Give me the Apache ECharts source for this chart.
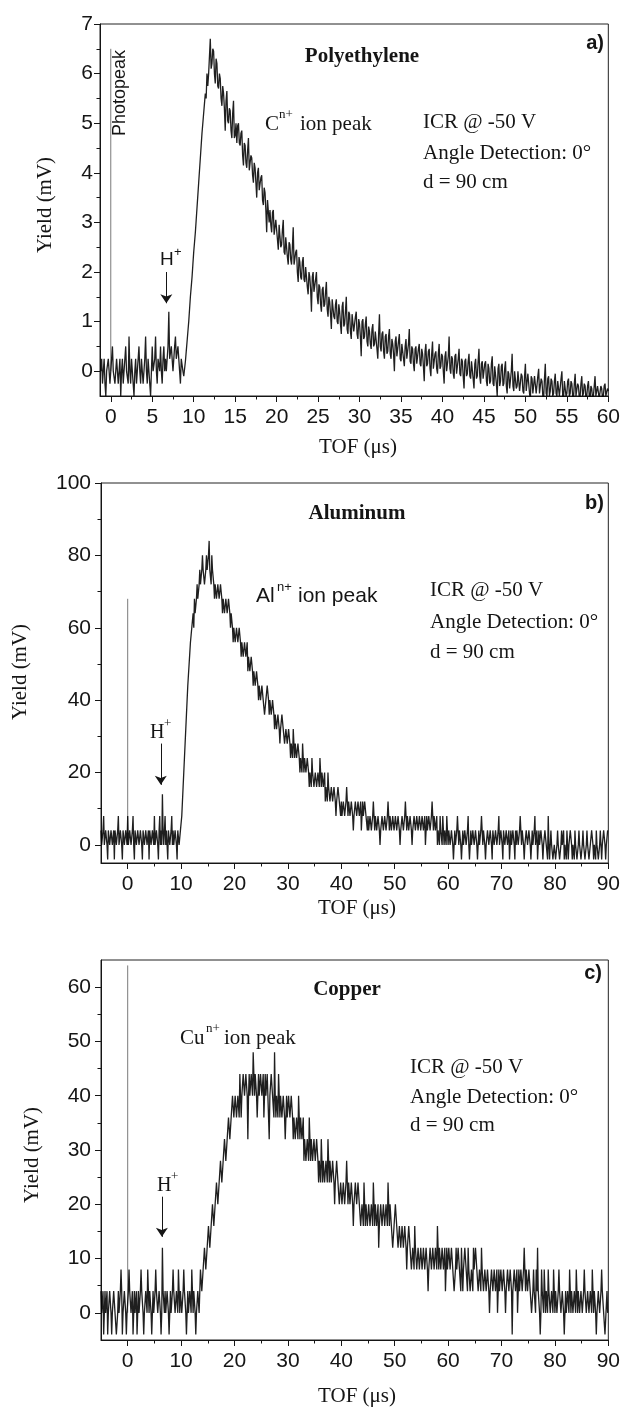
<!DOCTYPE html>
<html>
<head>
<meta charset="utf-8">
<script src="https://cdn.jsdelivr.net/npm/echarts@6/dist/echarts.min.js"></script>
<style>html,body{margin:0;padding:0;background:#fff}#c{width:623px;height:1412px}</style>
</head>
<body>
<div id="c"></div>
<script>
// ---------------- DATA ----------------
// Panel a) Polyethylene : sampled every 0.1 us from -1.2 us
const tStartA = -1.2, tStepA = 0.1;
const yieldA = [
0,0.25,-0.25,0,0.25,-0.25,-0.5,0,0,0.25,0.25,-0.25,-0.25,0.25,0.5,0,0,-0.25,-0.25,0.25,
0.25,-0.25,0,0.25,-0.5,0,0.25,-0.25,-0.25,0.25,0.5,0,0,-0.25,0.7,0,-0.25,0.25,0.25,-0.25,
-0.5,0,0.25,-0.25,0,0.25,0.5,0,-0.25,0.25,0.25,-0.25,0,0.25,0.7,0,-0.25,0.25,0.25,-0.25,
-0.5,0,0.5,0,0,0.25,0.7,0,-0.25,0.25,0.25,0,0.5,0,-0.25,0.25,0.5,0,0.25,0,
0,0.5,1.2,0.25,0.25,0.5,0.5,0,0,0.5,0.7,0.25,0.25,0.5,0.5,0,-0.25,0.25,0.25,0,
-0.1,0.05,
0.2,0.4,0.6,0.8,1.0,1.25,1.5,1.7,1.9,2.15,2.4,2.6,2.8,3.05,3.3,3.55,3.8,4.05,4.3,4.55,4.8,5.0,5.2,5.4,5.6,5.5,
6.0,5.75,6.0,6.35,6.7,6.1,6.2,6.5,6.45,6.0,5.8,6.3,6.2,5.75,5.7,6.0,
5.9,5.5,5.35,5.75,5.6,5.3,4.85,5.45,5.65,5.05,5.0,5.3,5.25,4.85,4.7,5.2,5.45,4.7,4.75,5.0,
4.6,4.95,5.0,4.6,4.55,4.8,4.85,4.35,4.15,4.6,4.55,4.2,4.1,4.45,4.7,4.05,4.05,4.35,4.3,3.95,
3.8,4.2,4.1,3.8,3.5,4.0,4.1,3.65,3.65,3.9,3.95,3.45,3.35,3.7,3.6,3.25,2.8,3.45,3.45,3.0,
3.25,2.95,2.8,3.2,3.25,2.75,2.75,3.05,3.05,2.65,2.45,2.95,2.95,2.5,2.55,2.85,3.05,2.4,2.35,2.7,
2.7,2.3,2.15,2.6,2.55,2.25,2.15,2.5,2.9,2.15,2.15,2.4,2.45,2.0,1.8,2.3,2.2,1.9,1.85,2.2,
2.3,1.85,1.8,2.1,2.1,1.7,1.55,2.0,1.9,1.65,1.2,1.9,2.0,1.6,1.6,1.85,2.0,1.5,1.35,1.75,
1.7,1.35,1.2,1.65,1.7,1.3,1.35,1.6,1.8,1.25,1.1,1.5,1.4,1.15,0.85,1.45,1.45,1.1,1.05,1.35,
1.45,1.0,0.95,1.35,1.2,0.95,0.75,1.3,1.4,0.9,0.95,1.2,1.5,0.85,0.75,1.2,1.15,0.8,0.65,1.15,
1.15,0.8,0.8,1.1,1.2,0.75,0.65,1.05,0.95,0.7,0.3,1.0,1.05,0.65,0.7,0.95,1.1,0.6,0.5,0.9,
0.8,0.55,0.45,0.85,0.95,0.5,0.55,0.8,0.8,0.45,0.25,0.75,1.15,0.5,0.4,0.75,0.8,0.4,0.25,0.7,
0.75,0.35,0.4,0.7,0.85,0.35,0.25,0.65,0.55,0.35,0.0,0.6,0.7,0.3,0.3,0.6,0.75,0.25,0.2,0.55,
0.55,0.25,0.1,0.5,0.65,0.25,0.25,0.55,0.85,0.2,0.15,0.5,0.45,0.15,0.0,0.45,0.5,0.15,0.15,0.45,
0.55,0.15,0.1,0.45,0.35,0.1,-0.2,0.4,0.55,0.1,0.15,0.4,0.45,0.05,-0.1,0.35,0.6,0.05,0.05,0.35,
0.4,0.05,-0.05,0.35,0.55,0.05,0.1,0.35,0.3,0.0,-0.25,0.3,0.4,0.0,0.0,0.3,0.7,0.05,-0.05,0.3,
0.25,-0.05,-0.15,0.3,0.35,-0.05,-0.05,0.25,0.45,-0.05,-0.1,0.25,0.2,-0.1,-0.35,0.2,0.25,-0.1,-0.05,0.2,
0.35,-0.1,-0.15,0.2,0.2,-0.15,-0.35,0.15,0.25,-0.15,-0.1,0.2,0.45,-0.1,-0.25,0.15,0.2,-0.15,-0.15,0.15,
0.2,-0.2,-0.3,0.15,0.05,-0.25,-0.2,0.15,0.3,-0.25,-0.3,0.1,0.1,-0.25,-0.5,0.05,0.15,-0.3,-0.2,0.1,
0.15,-0.3,-0.25,0.05,0.2,-0.3,-0.45,0.0,-0.05,-0.35,-0.35,0.0,0.35,-0.3,-0.4,0.0,0,-0.35,-0.3,0.0,
0,-0.4,-0.4,-0.05,-0.1,-0.4,-0.45,-0.1,0.15,-0.4,-0.4,-0.05,-0.05,-0.45,-0.55,-0.1,-0.15,-0.45,-0.45,-0.1,
-0.1,-0.45,-0.45,-0.1,0.05,-0.45,-0.45,-0.15,-0.2,-0.5,-0.55,-0.15,0.15,-0.45,-0.5,-0.15,-0.1,-0.5,-0.4,-0.15,
-0.2,-0.5,-0.45,-0.2,-0.05,-0.45,-0.5,-0.2,-0.2,-0.5,-0.5,-0.15,0,-0.5,-0.55,-0.2,-0.2,-0.5,-0.45,-0.2,
-0.15,-0.5,-0.45,-0.2,-0.25,-0.5,-0.55,-0.25,-0.05,-0.5,-0.5,-0.25,-0.3,-0.55,-0.5,-0.25,-0.1,-0.5,-0.45,-0.25,
-0.3,-0.55,-0.5,-0.3,-0.2,-0.5,-0.55,-0.3,-0.35,-0.55,-0.5,-0.3,-0.1,-0.5,-0.5,-0.3,-0.3,-0.55,-0.55,-0.3,
-0.35,-0.55,-0.5,-0.3,-0.25,-0.5,-0.5,-0.35,-0.4
];

// Panel b) Aluminum : sampled every 0.125 us from -5 us
const tStartB = -5, tStepB = 0.125;
const yieldB = [
4,0,0,4,8,0,0,4,4,0,-4,4,4,0,0,4,4,0,0,4,-4,4,4,0,0,4,8,0,0,4,4,0,-4,4,4,0,0,4,4,0,
8,0,0,4,4,0,0,4,8,0,-4,4,4,0,0,4,4,0,0,4,4,0,-4,4,4,0,0,4,4,0,0,4,-4,4,4,0,0,4,4,0,
8,0,0,4,4,0,-4,4,8,0,4,0,14,4,0,4,8,0,4,0,-4,4,4,0,0,4,8,0,4,0,0,4,4,0,-4,4,4,0,0,4,
4,8,12,16,20,24,28,32,36,40,44,47,50,53,56,58,60,62,64,60,68,64,64,68,72,68,68,72,76,72,72,76,80,76,76,72,72,76,80,76,
76,80,84,76,76,72,80,76,76,72,68,72,72,68,68,72,72,68,68,72,72,68,64,68,68,64,64,68,68,64,64,68,68,64,60,64,64,60,56,60,
60,56,56,60,60,56,56,60,60,56,52,56,56,52,52,56,56,52,52,56,48,52,52,48,48,52,52,48,44,48,48,44,44,48,48,44,40,44,44,40,
40,44,44,40,40,36,36,40,40,44,44,40,36,40,40,36,36,40,40,36,32,36,36,32,32,36,36,32,28,32,32,36,36,32,32,28,28,32,32,28,
28,32,32,28,24,28,28,24,32,28,24,28,28,24,24,28,28,24,20,24,24,20,28,24,20,24,24,20,20,24,24,20,16,20,20,16,24,20,20,16,
16,20,20,16,16,20,20,16,24,20,16,20,20,16,16,20,12,16,16,12,20,16,16,12,12,16,16,12,12,16,16,12,8,12,12,16,16,12,12,8,
12,8,8,12,12,8,8,12,16,12,8,12,12,8,8,12,12,8,4,8,8,12,12,8,8,12,12,8,8,12,4,8,12,8,8,12,12,8,8,4,
8,4,4,8,8,4,4,8,12,8,4,8,8,4,4,8,8,4,0,4,4,8,8,4,4,8,8,4,4,8,12,8,4,8,8,4,4,8,8,4,
4,8,8,4,4,8,8,4,0,4,4,8,8,4,4,8,12,8,4,8,8,4,4,8,8,4,0,4,4,8,8,4,4,8,8,4,4,8,8,4,
4,8,8,4,4,8,0,4,8,4,4,8,8,4,4,8,12,8,4,8,8,4,4,8,0,4,4,0,8,4,4,0,8,4,0,4,4,0,8,4,
0,4,4,0,0,4,4,0,-4,0,4,0,0,4,8,4,0,4,4,0,-4,0,4,0,0,4,4,0,0,4,8,0,-4,0,4,0,0,4,4,0,
0,4,4,0,-4,0,4,0,0,4,8,4,0,4,4,0,-4,0,0,4,4,0,0,4,4,0,-4,4,4,0,0,4,4,0,0,4,8,0,0,4,
4,0,-4,4,4,0,0,4,4,0,0,4,-4,0,4,0,0,4,4,0,-4,4,0,4,4,0,0,4,8,4,0,4,4,0,-4,0,0,4,4,0,
0,4,4,0,-4,0,4,0,0,4,8,0,0,4,-4,0,4,0,0,4,4,0,-4,0,0,4,4,0,0,-4,8,0,-4,0,4,0,0,-4,-4,0,
0,-4,-4,0,4,0,0,-4,-4,0,4,0,0,4,-4,0,0,-4,4,0,-4,0,0,4,4,0,-4,0,0,-4,4,0,0,-4,-4,0,4,0,0,-4,
-4,0,4,0,0,-4,-4,0,4,0,0,-4,-4,0,0,4,4,0,-4,0,0,-4,4,0,0,-4,-4,0,4,0,-4,0,0,4,4,0,-4,0,0,4,
4
];

// Panel c) Copper : sampled every 0.125 us from -5 us
const tStartC = -5, tStepC = 0.125;
const yieldC = [
4,0,0,4,-4,0,4,0,0,4,-4,0,0,4,4,0,-4,0,0,4,4,0,0,-4,-4,0,4,0,0,4,8,4,-4,0,0,4,4,0,-4,0,
0,4,8,4,4,0,0,4,-4,0,4,0,0,4,-4,0,4,0,0,4,8,4,4,0,-4,0,0,4,4,0,8,4,0,4,4,0,-4,0,4,0,
0,4,8,4,4,0,0,4,4,0,-4,0,12,4,4,0,4,0,0,4,4,0,-4,0,4,0,0,4,8,4,4,0,0,4,4,0,8,4,0,4,
4,0,0,4,8,4,4,0,-4,0,4,0,0,4,4,0,8,4,0,4,4,0,-4,0,0,4,4,0,4,8,8,4,4,8,8,12,12,8,8,12,
12,16,16,12,12,16,16,20,20,16,16,20,20,24,24,20,20,24,24,28,28,24,24,28,28,32,32,28,28,32,32,36,36,32,32,36,36,40,40,36,
36,40,40,36,36,40,40,36,44,40,36,40,40,44,44,40,40,44,44,40,32,40,44,40,40,44,44,40,48,44,40,44,44,40,36,40,44,40,40,44,
44,40,40,44,36,40,44,40,40,44,44,36,32,40,40,44,44,40,40,36,48,40,36,40,40,36,44,40,36,40,40,36,36,40,40,36,32,36,40,36,
36,40,40,36,36,40,40,36,32,36,36,32,32,36,36,32,40,36,32,36,36,32,32,36,28,32,32,28,28,32,32,28,36,32,28,32,32,28,28,32,
32,28,28,32,32,28,24,28,28,24,32,28,24,28,28,24,24,28,28,24,32,28,24,28,28,24,24,28,28,24,20,24,24,28,28,24,24,20,20,24,
24,20,20,24,24,20,20,24,28,24,20,24,24,20,20,24,24,20,16,20,20,24,24,20,20,24,24,20,20,16,16,20,20,16,24,20,16,20,20,16,
16,20,20,16,16,20,20,16,24,20,16,20,20,16,16,20,12,16,16,20,20,16,16,20,20,16,16,20,20,16,24,20,16,20,20,16,16,12,12,16,
16,20,20,16,16,12,12,16,16,12,12,16,16,12,12,16,16,12,8,12,12,16,16,12,12,8,8,12,12,8,16,12,12,8,8,12,12,8,8,12,
12,8,8,12,12,8,8,12,12,8,4,8,8,12,12,8,8,12,12,8,8,12,12,8,16,12,8,12,12,8,8,12,12,8,8,12,4,8,12,8,
8,12,12,8,8,12,12,8,8,4,4,8,12,8,8,12,12,8,8,4,12,8,4,8,8,12,12,8,8,4,12,8,8,4,4,8,8,4,12,8,
8,12,12,8,8,4,4,8,8,4,12,8,8,4,4,8,8,4,4,8,8,4,0,4,4,8,8,4,4,8,8,4,4,8,0,4,8,4,4,8,
8,4,4,8,8,4,0,4,4,8,8,4,4,8,8,4,-4,4,4,8,8,4,4,8,0,4,8,4,4,8,8,4,4,8,12,8,4,8,8,4,
4,8,8,4,4,0,0,4,8,4,4,0,8,4,12,4,4,0,-4,0,8,4,4,0,8,4,0,4,4,0,8,4,4,0,0,4,4,0,8,4,
0,4,4,0,0,4,8,4,4,0,0,4,4,0,-4,0,4,0,0,4,4,0,8,4,0,4,4,0,0,4,4,0,8,4,0,4,4,0,0,4,
4,0,0,4,8,4,4,0,0,4,4,0,0,4,4,0,8,4,0,4,4,0,-4,0,0,4,4,0,0,4,8,4,4,0,0,-4,-4,-4,4,0,
0
];

// Photopeak line (t = 0) heights per panel
const photopeakT = 0;
const photopeakTop = [6.5, 68, 64];

// H+ arrows (time, arrow start, arrow tip) per panel
const hArrowT = [6.7, 6.2, 6.4];
const hArrowFrom = [2.0, 28, 21.4];
const hArrowTo = [1.37, 16.6, 14.0];

// Axis ranges and ticks
const xRangeA = [-1.3, 60], xRangeBC = [-5, 90];
const yRangeA = [-0.5, 7], yRangeB = [-5, 100], yRangeC = [-5, 65];
const xTicksA = [0,5,10,15,20,25,30,35,40,45,50,55,60];
const xMinorA = [2.5,7.5,12.5,17.5,22.5,27.5,32.5,37.5,42.5,47.5,52.5,57.5];
const xTicksBC = [0,10,20,30,40,50,60,70,80,90];
const xMinorBC = [5,15,25,35,45,55,65,75,85];
const yTicksA = [0,1,2,3,4,5,6,7];
const yMinorA = [0.5,1.5,2.5,3.5,4.5,5.5,6.5];
const yTicksB = [0,20,40,60,80,100];
const yMinorB = [10,30,50,70,90];
const yTicksC = [0,10,20,30,40,50,60];
const yMinorC = [5,15,25,35,45,55];

// ---------------- CHART ----------------
function pairs(t0, dt, arr) { return arr.map((v, i) => [+(t0 + i * dt).toFixed(4), v]); }

const INK = '#151515';
const SANS = '"Liberation Sans", Arial, sans-serif';
const SERIF = '"Liberation Serif", "Times New Roman", serif';

function mainX(g, range, ticks) {
  return { gridIndex: g, type: 'value', min: range[0], max: range[1], position: 'bottom',
    axisLine: { show: true, onZero: false, lineStyle: { color: INK, width: 1 } },
    axisTick: { show: true, inside: false, length: 6, customValues: ticks, lineStyle: { color: INK, width: 1 } },
    axisLabel: { show: true, customValues: ticks, margin: 11, color: INK, fontFamily: SANS, fontSize: 21 },
    splitLine: { show: false } };
}
function minorX(g, range, ticks) {
  return { gridIndex: g, type: 'value', min: range[0], max: range[1], position: 'bottom',
    axisLine: { show: false, onZero: false },
    axisTick: { show: true, inside: false, length: 3.5, customValues: ticks, lineStyle: { color: INK, width: 1 } },
    axisLabel: { show: false }, splitLine: { show: false } };
}
function mainY(g, range, ticks, margin) {
  return { gridIndex: g, type: 'value', min: range[0], max: range[1], position: 'left',
    axisLine: { show: true, onZero: false, lineStyle: { color: INK, width: 1 } },
    axisTick: { show: true, inside: false, length: 6, customValues: ticks, lineStyle: { color: INK, width: 1 } },
    axisLabel: { show: true, customValues: ticks, margin: margin, color: INK, fontFamily: SANS, fontSize: 21 },
    splitLine: { show: false } };
}
function minorY(g, range, ticks) {
  return { gridIndex: g, type: 'value', min: range[0], max: range[1], position: 'left',
    axisLine: { show: false, onZero: false },
    axisTick: { show: true, inside: false, length: 3.5, customValues: ticks, lineStyle: { color: INK, width: 1 } },
    axisLabel: { show: false }, splitLine: { show: false } };
}

function signal(i, data, width) {
  return { type: 'line', xAxisIndex: i, yAxisIndex: i, data: data, symbol: 'none', showSymbol: false,
    silent: true, animation: false, clip: true,
    lineStyle: { color: '#000', width: width, opacity: 0.88 },
    markLine: { silent: true, animation: false, symbol: ['none', 'arrow'], symbolSize: 9,
      label: { show: false }, lineStyle: { color: INK, width: 1, type: 'solid', opacity: 1 },
      emphasis: { disabled: true },
      data: [[{ coord: [hArrowT[i], hArrowFrom[i]] }, { coord: [hArrowT[i], hArrowTo[i]] }]] } };
}
function photopeak(i) {
  return { type: 'line', xAxisIndex: i, yAxisIndex: i, symbol: 'none', silent: true, animation: false,
    data: [[photopeakT, 0], [photopeakT, photopeakTop[i]]],
    lineStyle: { color: '#7a7a7a', width: 1 } };
}

function T(text, x, y, font, align, rot, va) {
  return { type: 'text', x: x, y: y, rotation: rot || 0, silent: true, z: 100,
    style: { text: text, font: font, fill: INK, align: align || 'left', verticalAlign: va || 'middle',
      textAlign: align || 'left', textVerticalAlign: va || 'middle' } };
}
const R90 = Math.PI / 2;
const serif21 = '21px ' + SERIF, bserif21 = 'bold 21px ' + SERIF;
const sans21 = '21px ' + SANS, bsans20 = 'bold 20px ' + SANS;
const sup = '13px ' + SERIF, supS = '13px ' + SANS;

const graphics = [
  // panel a
  T('Polyethylene', 362, 57, bserif21, 'center'),
  T('a)', 604, 43, bsans20, 'right'),
  T('Photopeak', 120, 93, '18px ' + SANS, 'center', R90),
  T('C', 265, 124, serif21), T('n+', 279, 115, sup), T('ion peak', 300, 124, serif21),
  T('ICR @ -50 V', 423, 122, serif21), T('Angle Detection: 0°', 423, 153, serif21), T('d = 90 cm', 423, 182, serif21),
  T('H', 160, 260, '19px ' + SANS), T('+', 174, 252, supS),
  T('Yield (mV)', 45, 205, serif21, 'center', R90),
  T('TOF (μs)', 358, 447, serif21, 'center'),
  // panel b
  T('Aluminum', 357, 514, bserif21, 'center'),
  T('b)', 604, 503, bsans20, 'right'),
  T('Al', 256, 596, sans21), T('n+', 277, 587, supS), T('ion peak', 298, 596, sans21),
  T('ICR @ -50 V', 430, 590, serif21), T('Angle Detection: 0°', 430, 622, serif21), T('d = 90 cm', 430, 652, serif21),
  T('H', 150, 733, '20px ' + SERIF), T('+', 164, 724, sup),
  T('Yield (mV)', 20, 672, serif21, 'center', R90),
  T('TOF (μs)', 357, 908, serif21, 'center'),
  // panel c
  T('Copper', 347, 990, bserif21, 'center'),
  T('c)', 602, 973, bsans20, 'right'),
  T('Cu', 180, 1038, serif21), T('n+', 206, 1029, sup), T('ion peak', 224, 1038, serif21),
  T('ICR @ -50 V', 410, 1067, serif21), T('Angle Detection: 0°', 410, 1097, serif21), T('d = 90 cm', 410, 1125, serif21),
  T('H', 157, 1186, '20px ' + SERIF), T('+', 171, 1177, sup),
  T('Yield (mV)', 32, 1155, serif21, 'center', R90),
  T('TOF (μs)', 357, 1396, serif21, 'center')
];

const chart = echarts.init(document.getElementById('c'), null, { renderer: 'canvas' });
chart.setOption({
  animation: false,
  backgroundColor: '#fff',
  grid: [
    { left: 100, top: 24, width: 511, height: 372, show: true, borderColor: '#222', borderWidth: 1, backgroundColor: 'transparent' },
    { left: 101, top: 483, width: 510, height: 380, show: true, borderColor: '#222', borderWidth: 1, backgroundColor: 'transparent' },
    { left: 101, top: 960, width: 510, height: 380, show: true, borderColor: '#222', borderWidth: 1, backgroundColor: 'transparent' }
  ],
  xAxis: [
    mainX(0, xRangeA, xTicksA), mainX(1, xRangeBC, xTicksBC), mainX(2, xRangeBC, xTicksBC),
    minorX(0, xRangeA, xMinorA), minorX(1, xRangeBC, xMinorBC), minorX(2, xRangeBC, xMinorBC)
  ],
  yAxis: [
    mainY(0, yRangeA, yTicksA, 7), mainY(1, yRangeB, yTicksB, 10), mainY(2, yRangeC, yTicksC, 10),
    minorY(0, yRangeA, yMinorA), minorY(1, yRangeB, yMinorB), minorY(2, yRangeC, yMinorC)
  ],
  series: [
    photopeak(0), photopeak(1), photopeak(2),
    signal(0, pairs(tStartA, tStepA, yieldA), 1.3),
    signal(1, pairs(tStartB, tStepB, yieldB), 1.3),
    signal(2, pairs(tStartC, tStepC, yieldC), 1.3)
  ],
  graphic: graphics
});
</script>
</body>
</html>
